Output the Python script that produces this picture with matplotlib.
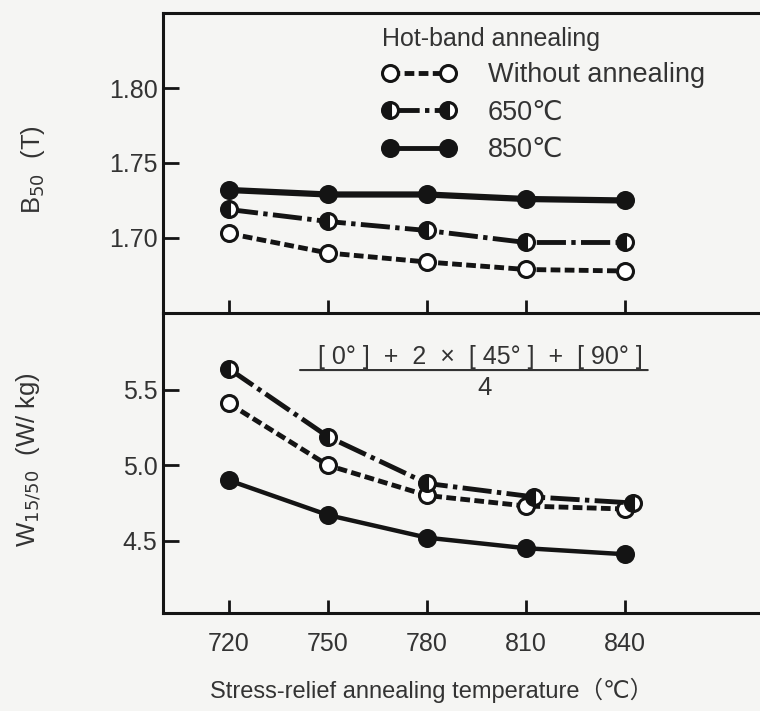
import matplotlib.pyplot as plt
from matplotlib.lines import Line2D

plt.rcParams['font.family'] = ['Liberation Sans', 'DejaVu Sans']

# stress-relief annealing temperature (C)
temps = [720, 750, 780, 810, 840]
temps_650_w = [720, 750, 780, 812.5, 842.5]   # slightly shifted in the original

# B50 (T)
b50_without = [1.703, 1.690, 1.684, 1.679, 1.678]
b50_650 = [1.719, 1.711, 1.705, 1.697, 1.697]
b50_850 = [1.732, 1.729, 1.729, 1.726, 1.725]

# W15/50 (W/kg)
w_without = [5.41, 5.00, 4.80, 4.73, 4.71]
w_650 = [5.64, 5.19, 4.88, 4.79, 4.75]
w_850 = [4.90, 4.67, 4.52, 4.45, 4.41]

series_labels = ['Without annealing', '650℃', '850℃']

ink = '#141414'
txt = '#333333'
bg = '#f5f5f3'

fig = plt.figure(figsize=(7.6, 7.11), dpi=100, facecolor=bg)
ax1 = fig.add_axes([0.2145, 0.5598, 0.7855, 0.4219], facecolor=bg)
ax2 = fig.add_axes([0.2145, 0.1378, 0.7855, 0.4219])
ax2.patch.set_visible(False)

dash_short = (2.0, 0.9)
dash_dot = (6.0, 1.1, 0.9, 1.1)
ms = 11.5
mew = 2.2
lw = 3.5


def draw(ax, x650, y_wo, y_650, y_850, lw_solid):
    ax.plot(temps, y_wo, color=ink, lw=lw, dashes=dash_short, marker='o', ms=ms,
            mfc='white', mec=ink, mew=mew, zorder=3)
    ax.plot(x650, y_650, color=ink, lw=lw, dashes=dash_dot, marker='o', ms=ms,
            fillstyle='left', mfc=ink, mfcalt='white', mec=ink, mew=mew, zorder=3)
    ax.plot(temps, y_850, color=ink, lw=lw_solid, marker='o', ms=ms,
            mfc=ink, mec=ink, mew=mew, zorder=3)


draw(ax1, temps, b50_without, b50_650, b50_850, 4.5)
draw(ax2, temps_650_w, w_without, w_650, w_850, 3.2)

for ax in (ax1, ax2):
    ax.set_xlim(700, 881)
    ax.set_xticks(temps)
    ax.spines['right'].set_visible(False)
    for s in ('left', 'top', 'bottom'):
        ax.spines[s].set_linewidth(2.2)
        ax.spines[s].set_color(ink)
    ax.tick_params(axis='y', direction='in', length=11.5, width=2, color=ink,
                   labelsize=18, labelcolor=txt, pad=4)
    ax.tick_params(axis='x', direction='in', length=9.5, width=2, color=ink,
                   labelsize=18, labelcolor=txt, pad=14)

ax1.set_ylim(1.65, 1.85)
ax1.set_yticks([1.70, 1.75, 1.80])
ax1.set_yticklabels(['1.70', '1.75', '1.80'])
ax1.tick_params(axis='x', labelbottom=False)

ax2.set_ylim(4.02, 6.01)
ax2.set_yticks([4.5, 5.0, 5.5])
ax2.set_yticklabels(['4.5', '5.0', '5.5'])
ax2.spines['top'].set_visible(False)

fig.text(0.0434, 0.761, 'B$_{50}$  (T)', rotation=90, ha='center', va='center',
         fontsize=18.5, color=txt)
fig.text(0.039, 0.353, 'W$_{15/50}$  (W/ kg)', rotation=90, ha='center', va='center',
         fontsize=18.5, color=txt)
fig.text(0.568, 0.0295, 'Stress-relief annealing temperature（℃）', ha='center',
         va='center', fontsize=17, color=txt,
         family=['Liberation Sans', 'DejaVu Sans', 'Noto Sans CJK JP'])

# legend
handles = [
    Line2D([], [], color=ink, lw=lw, dashes=dash_short, marker='o', ms=ms,
           mfc='white', mec=ink, mew=mew),
    Line2D([], [], color=ink, lw=lw, dashes=dash_dot, marker='o', ms=ms,
           fillstyle='left', mfc=ink, mfcalt='white', mec=ink, mew=mew),
    Line2D([], [], color=ink, lw=lw, marker='o', ms=ms, mfc=ink, mec=ink, mew=mew),
]
leg = ax1.legend(handles, series_labels, title='Hot-band annealing', loc='upper left',
                 bbox_to_anchor=(382 / 760, 1 - 27 / 711), bbox_transform=fig.transFigure,
                 frameon=False, numpoints=2, handlelength=2.75, handletextpad=1.15,
                 labelspacing=0.42, borderpad=0, borderaxespad=0, fontsize=19.5,
                 title_fontsize=18, alignment='left')
for t in leg.get_texts():
    t.set_color(txt)
leg.get_title().set_color(txt)

# formula annotation in lower panel
ax2.text(0.531, 0.853, '[ 0° ]  +  2  ×  [ 45° ]  +  [ 90° ]', transform=ax2.transAxes,
         ha='center', va='center', fontsize=18, color=txt)
ax2.annotate('', xy=(0.812, 0.81), xytext=(0.2295, 0.81), xycoords='axes fraction',
             arrowprops=dict(arrowstyle='-', lw=1.5, color=txt, shrinkA=0, shrinkB=0))
ax2.text(0.539, 0.75, '4', transform=ax2.transAxes, ha='center', va='center',
         fontsize=18.5, color=txt)

fig.savefig('out.png', dpi=100, facecolor=bg)
